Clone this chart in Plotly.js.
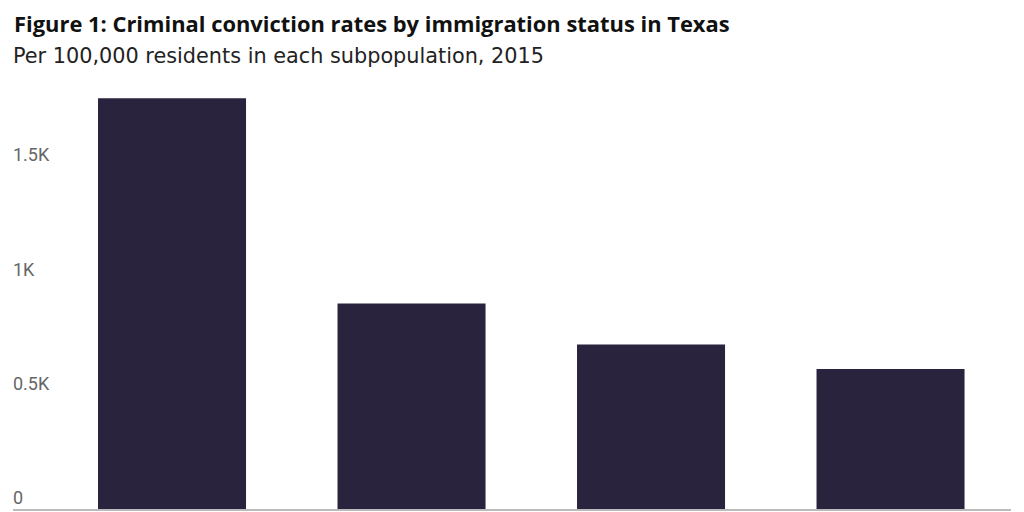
<!DOCTYPE html>
<html>
<head>
<meta charset="utf-8">
<script src="https://cdn.plot.ly/plotly-3.0.1.min.js"></script>
<style>html,body{margin:0;padding:0;background:#fff;}#chart{width:1024px;height:512px;}</style>
</head>
<body>
<div id="chart"></div>
<script>
var categories = ["Native-born Americans", "Illegal immigrants", "All immigrants", "Legal immigrants"];
var convictionRates = [1797, 899, 720, 613];
var yTickVals = [0, 500, 1000, 1500];
var yTickText = ["0", "0.5K", "1K", "1.5K"];
var titleText = "Figure 1: Criminal conviction rates by immigration status in Texas";
var subtitleText = "Per 100,000 residents in each subpopulation, 2015";

var trace = {
  type: "bar",
  x: categories,
  y: convictionRates,
  marker: {color: "#29233d", line: {width: 0}},
  hoverinfo: "x+y"
};

var layout = {
  width: 1024,
  height: 512,
  margin: {l: 13, r: 13, t: 80, b: 3, pad: 0},
  paper_bgcolor: "#ffffff",
  plot_bgcolor: "#ffffff",
  bargap: 0.382,
  showlegend: false,
  title: {
    text: titleText,
    x: 14 / 1024,
    xanchor: "left",
    xref: "container",
    y: 1 - 24 / 512,
    yanchor: "middle",
    yref: "container",
    font: {family: "'Open Sans', sans-serif", size: 21.9, color: "#111111", weight: "bold"}
  },
  annotations: [{
    text: subtitleText,
    xref: "paper", yref: "paper",
    x: (11 - 13) / 998, xanchor: "left",
    y: (509 - 56) / 429, yanchor: "middle",
    showarrow: false,
    font: {family: "'DejaVu Sans', sans-serif", size: 20.8, color: "#222222"}
  }],
  xaxis: {
    type: "category",
    range: [-0.664, 3.503],
    showticklabels: false,
    showgrid: false,
    zeroline: false,
    showline: true,
    linecolor: "#bbbbbb",
    linewidth: 2,
    ticks: "",
    fixedrange: true
  },
  yaxis: {
    range: [0, 1877],
    tickvals: yTickVals,
    ticktext: yTickText,
    ticklabelposition: "inside",
    ticklabelshift: -11,
    ticklabelstandoff: -3,
    showgrid: false,
    zeroline: false,
    showline: false,
    ticks: "",
    tickfont: {family: "Roboto, 'Liberation Sans', sans-serif", size: 18, color: "#666666"},
    fixedrange: true
  }
};

Plotly.newPlot("chart", [trace], layout, {displayModeBar: false, staticPlot: true});
</script>
</body>
</html>
